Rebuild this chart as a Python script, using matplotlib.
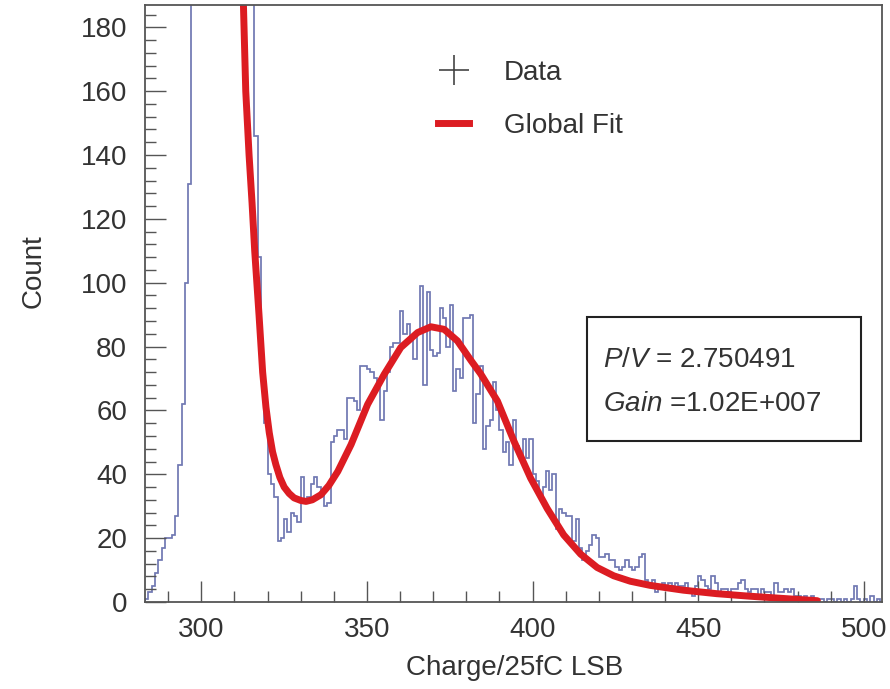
import matplotlib
matplotlib.use("Agg")
import matplotlib.pyplot as plt
from matplotlib.lines import Line2D
from matplotlib.patches import Rectangle
from matplotlib.ticker import MultipleLocator
import numpy as np

plt.rcParams['font.family'] = ['Liberation Sans', 'DejaVu Sans']
plt.rcParams['mathtext.fontset'] = 'custom'
plt.rcParams['mathtext.rm'] = 'Liberation Sans'
plt.rcParams['mathtext.it'] = 'Liberation Sans:italic'

# ---------------- data ----------------
bin_start = 283          # left edge of first bin, 1 LSB wide bins
counts = [
    1, 3, 5, 9, 13, 17, 20, 20, 21, 27,                     # 283-292
    43, 62, 100, 131, 240, 380, 520, 650, 760, 830,         # 293-302
    860, 850, 800, 730, 640, 550, 460, 380, 310, 260,       # 303-312
    225, 205, 192, 146, 108, 72, 56, 40, 37, 33,            # 313-322
    19, 20, 26, 22, 28, 27, 25, 39, 31, 33,                 # 323-332
    37, 39, 36, 34, 30, 31, 50, 52, 54, 54,                 # 333-342
    51, 64, 64, 63, 60, 74, 74, 73, 72, 70,                 # 343-352
    69, 57, 66, 72, 80, 81, 81, 91, 84, 87,                 # 353-362
    82, 76, 85, 99, 68, 97, 79, 77, 78, 92,                 # 363-372
    89, 80, 93, 66, 73, 70, 89, 89, 90, 56,                 # 373-382
    65, 74, 48, 55, 57, 69, 60, 54, 47, 50,                 # 383-392
    43, 57, 49, 46, 51, 45, 51, 40, 38, 33,                 # 393-402
    36, 41, 35, 40, 23, 29, 28, 27, 27, 19,                 # 403-412
    26, 17, 13, 16, 18, 21, 20, 14, 14, 15,                 # 413-422
    13, 13, 11, 10, 11, 13, 11, 10, 11, 14,                 # 423-432
    15, 7, 6, 7, 3, 5, 6, 5, 6, 5,                          # 433-442
    6, 5, 5, 6, 4, 2, 5, 8, 7, 5,                           # 443-452
    4, 8, 6, 2, 4, 4, 3, 4, 4, 6,                           # 453-462
    7, 4, 3, 4, 4, 2, 4, 3, 3, 2,                           # 463-472
    6, 3, 3, 4, 3, 4, 2, 2, 1, 2,                           # 473-482
    1, 2, 1, 1, 1, 0, 1, 1, 0, 1,                           # 483-492
    0, 1, 0, 1, 5, 1, 0, 1, 0, 2,                           # 493-502
    0, 1,                                                   # 503-504
]

# global fit curve
fit_x = [312.7, 313.4, 314.4, 315.3, 316.1, 317.4, 318.5, 319.5, 320.5, 321.5,
         322.5, 323.7, 325.0, 326.5, 328.0, 330.0, 331.6, 333.5, 336.1, 338.5,
         341.2, 345.2, 350.2, 355.2, 360.2, 365.3, 369.3, 373.3, 377.3, 381.5,
         384.3, 389.4, 394.4, 399.4, 404.4, 409.4, 414.5, 419.5, 424.5, 429.5,
         435.5, 445.5, 455.6, 465.7, 475.7, 486.0]
fit_y = [187, 160, 140, 125, 110, 90, 72, 61, 53, 47,
         43, 39, 36, 34, 32.6, 31.8, 31.5, 32, 33.6, 36.5,
         40.9, 49.3, 61.9, 71.3, 79.7, 84.4, 86.2, 85.4, 81.8, 75.5,
         71.5, 62.9, 50.3, 38.8, 29.3, 21, 15, 10.8, 8.2, 6.5,
         5.2, 3.7, 2.6, 1.8, 1.1, 0.4]

x_ticks = [300, 350, 400, 450, 500]
y_ticks = [0, 20, 40, 60, 80, 100, 120, 140, 160, 180]
stats_lines = [r"$\mathit{P/V}$ = 2.750491", r"$\mathit{Gain}$ =1.02E+007"]

# ---------------- plot ----------------
fig = plt.figure(figsize=(8.9, 6.89), dpi=100)
ax = fig.add_axes([0.163, 0.1263, 0.828, 0.8665])

edges = np.arange(bin_start, bin_start + len(counts) + 1)
ax.stairs(counts, edges, color='#7078b2', lw=1.25)
ax.plot(fit_x, fit_y, color='#dc1c22', lw=5, solid_capstyle='round')

ax.set_xlim(283, 505.5)
ax.set_ylim(0, 187)
ax.set_xticks(x_ticks)
ax.set_yticks(y_ticks)
ax.xaxis.set_minor_locator(MultipleLocator(10))
ax.yaxis.set_minor_locator(MultipleLocator(4))
ax.tick_params(which='both', direction='in', top=False, right=False,
               color='#555555', labelsize=20, labelcolor='#333333')
ax.tick_params(which='major', length=15, width=1.0)
ax.tick_params(which='minor', length=8, width=1.0)
ax.tick_params(axis='y', pad=13)
ax.tick_params(axis='x', pad=11)
for sp in ax.spines.values():
    sp.set_color('#555555')
    sp.set_linewidth(1.3)

ax.set_xlabel("Charge/25fC LSB", fontsize=20, color='#333333')
ax.set_ylabel("Count", fontsize=20, color='#333333')
ax.xaxis.set_label_coords(0.502, -0.088)
ax.yaxis.set_label_coords(-0.133, 0.555)

handles = [Line2D([], [], marker='+', ms=22, mew=1.2, color='#444444', ls='none'),
           Line2D([], [], color='#dc1c22', lw=5)]
ax.legend(handles, ["Data", "Global Fit"], loc='upper left',
          bbox_to_anchor=(0.364, 0.95), frameon=False, fontsize=20,
          handlelength=1.1, handletextpad=1.25, labelspacing=0.98,
          labelcolor='#333333')

ax.add_patch(Rectangle((0.600, 0.269), 0.3715, 0.2076, transform=ax.transAxes,
                       fill=False, edgecolor='#222222', lw=1.5, zorder=5))
ax.text(0.622, 0.405, stats_lines[0], transform=ax.transAxes, fontsize=20,
        va='center', ha='left', color='#333333')
ax.text(0.622, 0.331, stats_lines[1], transform=ax.transAxes, fontsize=20,
        va='center', ha='left', color='#333333')

fig.savefig("out.png", dpi=100)
